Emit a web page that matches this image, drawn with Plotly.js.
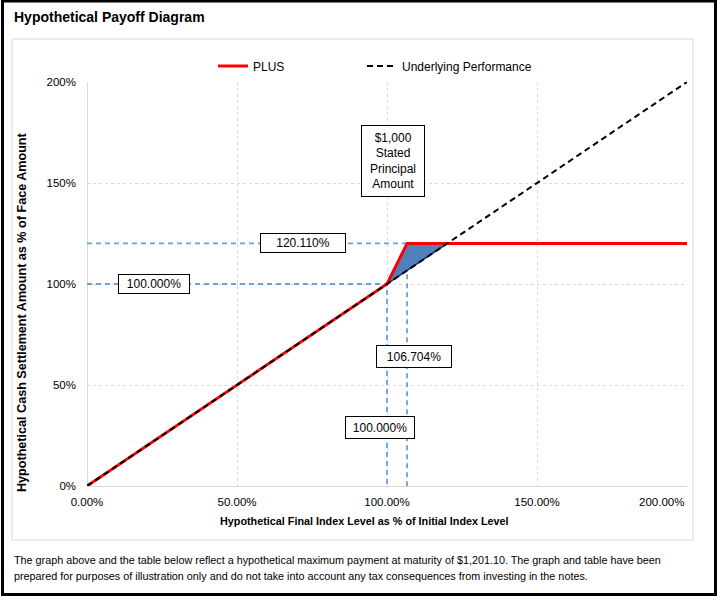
<!DOCTYPE html>
<html>
<head>
<meta charset="utf-8">
<script src="https://cdn.plot.ly/plotly-3.0.1.min.js"></script>
<style>
  html, body { margin: 0; padding: 0; background: #fff; }
  #chart { width: 722px; height: 596px; }
</style>
</head>
<body>
<div id="chart"></div>
<script>
// ---- Data ----
const plusX = [0, 100, 106.704, 200];
const plusY = [0, 100, 120.11, 120.11];
const underlyingX = [0, 200];
const underlyingY = [0, 200];
const triangleX = [100, 106.704, 120.11, 100];
const triangleY = [100, 120.11, 120.11, 100];
const capRefX = [0, 106.704, 106.704];
const capRefY = [120.11, 120.11, 0];
const parRefX = [0, 100, 100];
const parRefY = [100, 100, 0];
const xTickVals = [0, 50, 100, 150, 200];
const xTickText = ["0.00%", "50.00%", "100.00%", "150.00%", "200.00%"];
const yTickVals = [0, 50, 100, 150, 200];
const yTickText = ["0%", "50%", "100%", "150%", "200%"];
const labelTexts = ["120.110%", "100.000%", "106.704%", "100.000%", "$1,000<br>Stated<br>Principal<br>Amount"];
const labelX = [72, 22.2, 109, 97.7, 102];
const labelY = [120.11, 100, 64.1, 29.0, 160.9];
const labelW = [80, 66, 70, 64, 58];
const labelH = [14, 14, 17, 17, 66];
const seriesNames = ["PLUS", "Underlying Performance"];
const chartTitle = "Hypothetical Payoff Diagram";
const xTitle = "Hypothetical Final Index Level as % of Initial Index Level";
const yTitle = "Hypothetical Cash Settlement Amount as % of Face Amount";
const footer1 = "The graph above and the table below reflect a hypothetical maximum payment at maturity of $1,201.10. The graph and table have been";
const footer2 = "prepared for purposes of illustration only and do not take into account any tax consequences from investing in the notes.";

// ---- Geometry helpers (pixel -> paper) ----
const W = 722, H = 596, ML = 87, MR = 35, MT = 82, MB = 110;
const PW = W - ML - MR, PH = H - MT - MB;
const px = v => (v - ML) / PW;
const py = v => (H - MB - v) / PH;

const FONT = "Liberation Sans, Arial, sans-serif";
const blue = "#6a9ee6";
const lastTick = xTickVals.length - 1;

const traces = [
  { x: capRefX, y: capRefY, mode: "lines", showlegend: false, hoverinfo: "skip",
    line: { color: blue, width: 1.8, dash: "5px,4px" } },
  { x: parRefX, y: parRefY, mode: "lines", showlegend: false, hoverinfo: "skip",
    line: { color: blue, width: 1.8, dash: "5px,4px" } },
  { x: triangleX, y: triangleY, mode: "lines", fill: "toself", fillcolor: "#4f81bd",
    showlegend: false, hoverinfo: "skip",
    line: { color: "#1c2a4a", width: 1.5 } },
  { x: plusX, y: plusY, mode: "lines", name: seriesNames[0], legendwidth: 104,
    line: { color: "#ff0000", width: 3 } },
  { x: underlyingX, y: underlyingY, mode: "lines", name: seriesNames[1], legendwidth: 170,
    line: { color: "#000000", width: 2, dash: "6px,4px" } }
];

const annotations = labelTexts.map((t, i) => ({
  x: labelX[i], y: labelY[i], xref: "x", yref: "y", text: t, showarrow: false,
  font: { family: FONT, size: 12, color: "#000" },
  bgcolor: "#ffffff", bordercolor: "#000000", borderwidth: 1, borderpad: 2,
  width: labelW[i], height: labelH[i], align: "center", valign: "middle"
}));

annotations.push(
  // last x tick label, kept inside the chart box (right-aligned to its tick)
  { xref: "x", yref: "paper", x: xTickVals[lastTick], y: py(502), xanchor: "right", yanchor: "middle",
    xshift: -1, text: xTickText[lastTick], showarrow: false,
    font: { family: FONT, size: 11.5, color: "#000" } },
  { xref: "paper", yref: "paper", x: px(12), y: py(17), xanchor: "left", yanchor: "middle",
    text: "<b>" + chartTitle + "</b>", showarrow: false,
    font: { family: FONT, size: 14, color: "#000" } },
  { xref: "paper", yref: "paper", x: px(364.5), y: py(521), xanchor: "center", yanchor: "middle",
    text: "<b>" + xTitle + "</b>", showarrow: false,
    font: { family: FONT, size: 10.8, color: "#000" } },
  { xref: "paper", yref: "paper", x: px(22), y: py(312), xanchor: "center", yanchor: "middle",
    text: "<b>" + yTitle + "</b>", showarrow: false, textangle: -90,
    font: { family: FONT, size: 12.6, color: "#000" } },
  { xref: "paper", yref: "paper", x: px(12), y: py(560), xanchor: "left", yanchor: "middle",
    text: footer1, showarrow: false,
    font: { family: FONT, size: 10.8, color: "#000" } },
  { xref: "paper", yref: "paper", x: px(12), y: py(576), xanchor: "left", yanchor: "middle",
    text: footer2, showarrow: false,
    font: { family: FONT, size: 10.8, color: "#000" } }
);

const shapes = [
  { type: "rect", xref: "paper", yref: "paper", layer: "below",
    x0: px(12), x1: px(693), y0: py(540), y1: py(39),
    line: { color: "#d9d9d9", width: 1 } },
  { type: "rect", xref: "paper", yref: "paper", layer: "above",
    x0: px(2.5), x1: px(715.5), y0: py(594.5), y1: py(1),
    line: { color: "#000000", width: 3 } }
];

const layout = {
  width: W, height: H,
  margin: { l: ML, r: MR, t: MT, b: MB, pad: 0 },
  paper_bgcolor: "#ffffff", plot_bgcolor: "#ffffff",
  font: { family: FONT, size: 12, color: "#000" },
  showlegend: true,
  legend: {
    orientation: "h", x: px(213), xanchor: "left", y: py(66), yanchor: "middle",
    font: { family: FONT, size: 12, color: "#000" },
    bgcolor: "rgba(0,0,0,0)", borderwidth: 0
  },
  xaxis: {
    range: [0, 200], tickvals: xTickVals,
    ticktext: xTickText.map((t, i) => (i === lastTick ? "" : t)),
    showgrid: true, gridcolor: "#d9d9d9", griddash: "dot", gridwidth: 1,
    showline: false, zeroline: true, zerolinecolor: "#d9d9d9", zerolinewidth: 1,
    ticks: "", ticklabelstandoff: 7,
    tickfont: { family: FONT, size: 11.5, color: "#000" }, fixedrange: true
  },
  yaxis: {
    range: [0, 200], tickvals: yTickVals, ticktext: yTickText,
    showgrid: true, gridcolor: "#d9d9d9", griddash: "dot", gridwidth: 1,
    showline: false, zeroline: true, zerolinecolor: "#d9d9d9", zerolinewidth: 1,
    ticks: "", ticklabelstandoff: 10,
    tickfont: { family: FONT, size: 11.5, color: "#000" }, fixedrange: true
  },
  shapes: shapes,
  annotations: annotations
};

Plotly.newPlot("chart", traces, layout, { displayModeBar: false, staticPlot: true });
</script>
</body>
</html>
